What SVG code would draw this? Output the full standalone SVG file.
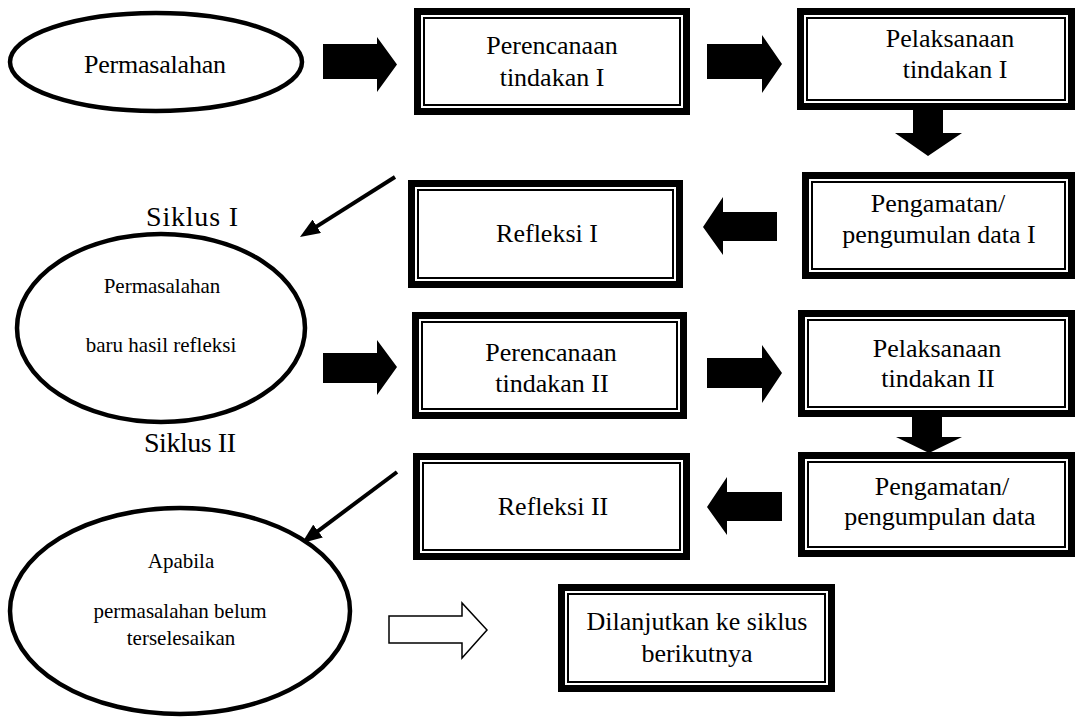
<svg xmlns="http://www.w3.org/2000/svg" width="1077" height="718" viewBox="0 0 1077 718">
<style>
.t{font-family:"Liberation Serif","Times New Roman",serif;font-size:26px;fill:#000;text-anchor:middle}
.s{font-size:21px}
.k{font-size:28px;text-anchor:start}
.ell{fill:#fff;stroke:#000;stroke-width:4.5}
.bo{fill:#fff;stroke:#000;stroke-width:7}
.bi{fill:none;stroke:#000;stroke-width:2}
.blk{fill:#000;stroke:none}
.hol{fill:#fff;stroke:#000;stroke-width:1.5}
.dl{stroke:#000;stroke-width:4;fill:none}
</style>
<defs>
<marker id="ah" markerUnits="userSpaceOnUse" markerWidth="20" markerHeight="16" refX="8" refY="8" orient="auto" viewBox="0 0 20 16">
<path d="M0,0 L20,8 L0,16 z" fill="#000"/>
</marker>
</defs>
<rect width="1077" height="718" fill="#fff"/>

<g id="connectors">
<polygon class="blk" points="323,44 377,44 377,37 397,64.5 377,92 377,79 323,79"/>
<polygon class="blk" points="707,44 762,44 762,35 782,64 762,93 762,79 707,79"/>
<polygon class="blk" points="913,110 943,110 943,133 962,133 928,156 895,133 913,133"/>
<polygon class="blk" points="777,212 723,212 723,197 703,227 723,255 723,241 777,241"/>
<line class="dl" x1="395" y1="177" x2="310.1" y2="230.6" marker-end="url(#ah)"/>
<polygon class="blk" points="323,353 377,353 377,340 397,367 377,395 377,383 323,383"/>
<polygon class="blk" points="707,358 762,358 762,345 782,373 762,403 762,388 707,388"/>
<polygon class="blk" points="912,417 942,417 942,437 962,437 929,453 896,437 912,437"/>
<polygon class="blk" points="782,492 727,492 727,477 707,507 727,535 727,521 782,521"/>
<line class="dl" x1="397" y1="472" x2="311.6" y2="535.8" marker-end="url(#ah)"/>
<polygon class="hol" points="389,616 462,616 462,603 487,630 462,658 462,643 389,643"/>
</g>

<g id="n-permasalahan">
<ellipse class="ell" cx="156" cy="62" rx="146" ry="49"/>
<text class="t" x="155" y="73" textLength="142">Permasalahan</text>
</g>

<g id="n-perencanaan1">
<rect class="bo" x="417.5" y="11.5" width="269" height="100"/>
<rect class="bi" x="424" y="18" width="256" height="87"/>
<text class="t" x="552" y="54">Perencanaan</text>
<text class="t" x="552" y="86">tindakan I</text>
</g>

<g id="n-pelaksanaan1">
<rect class="bo" x="800.5" y="11.5" width="271" height="95"/>
<rect class="bi" x="807" y="18" width="258" height="82"/>
<text class="t" x="950" y="47">Pelaksanaan</text>
<text class="t" x="955" y="78">tindakan I</text>
</g>

<g id="n-pengamatan1">
<rect class="bo" x="805.5" y="175.5" width="266" height="100"/>
<rect class="bi" x="812" y="182" width="253" height="87"/>
<text class="t" x="938" y="212">Pengamatan/</text>
<text class="t" x="939" y="243">pengumulan data I</text>
</g>

<g id="n-refleksi1">
<rect class="bo" x="411.5" y="183.5" width="268" height="101"/>
<rect class="bi" x="418" y="190" width="255" height="88"/>
<text class="t" x="547" y="242">Refleksi I</text>
</g>

<g id="n-siklus1">
<text class="t k" x="146" y="226" textLength="92">Siklus I</text>
</g>

<g id="n-permasalahan-baru">
<ellipse class="ell" cx="161" cy="328" rx="144" ry="94"/>
<text class="t s" x="162" y="293">Permasalahan</text>
<text class="t s" x="161" y="352">baru hasil refleksi</text>
</g>

<g id="n-perencanaan2">
<rect class="bo" x="415.5" y="315.5" width="268" height="100"/>
<rect class="bi" x="422" y="322" width="255" height="87"/>
<text class="t" x="551" y="361">Perencanaan</text>
<text class="t" x="552" y="392">tindakan II</text>
</g>

<g id="n-pelaksanaan2">
<rect class="bo" x="801.5" y="313.5" width="270" height="100"/>
<rect class="bi" x="808" y="320" width="257" height="87"/>
<text class="t" x="937" y="357">Pelaksanaan</text>
<text class="t" x="938" y="387">tindakan II</text>
</g>

<g id="n-siklus2">
<text class="t k" x="144" y="452" textLength="92">Siklus II</text>
</g>

<g id="n-pengamatan2">
<rect class="bo" x="801.5" y="455.5" width="270" height="98"/>
<rect class="bi" x="808" y="462" width="257" height="85"/>
<text class="t" x="942" y="495">Pengamatan/</text>
<text class="t" x="940" y="525">pengumpulan data</text>
</g>

<g id="n-refleksi2">
<rect class="bo" x="416.5" y="456.5" width="270" height="100"/>
<rect class="bi" x="423" y="463" width="257" height="87"/>
<text class="t" x="553" y="515">Refleksi II</text>
</g>

<g id="n-apabila">
<ellipse class="ell" cx="180" cy="611" rx="170" ry="103"/>
<text class="t s" x="181" y="568">Apabila</text>
<text class="t s" x="180" y="618">permasalahan belum</text>
<text class="t s" x="181" y="645">terselesaikan</text>
</g>

<g id="n-dilanjutkan">
<rect class="bo" x="561.5" y="587.5" width="270" height="101"/>
<rect class="bi" x="568" y="594" width="257" height="88"/>
<text class="t" x="697" y="630">Dilanjutkan ke siklus</text>
<text class="t" x="697" y="662">berikutnya</text>
</g>
</svg>
